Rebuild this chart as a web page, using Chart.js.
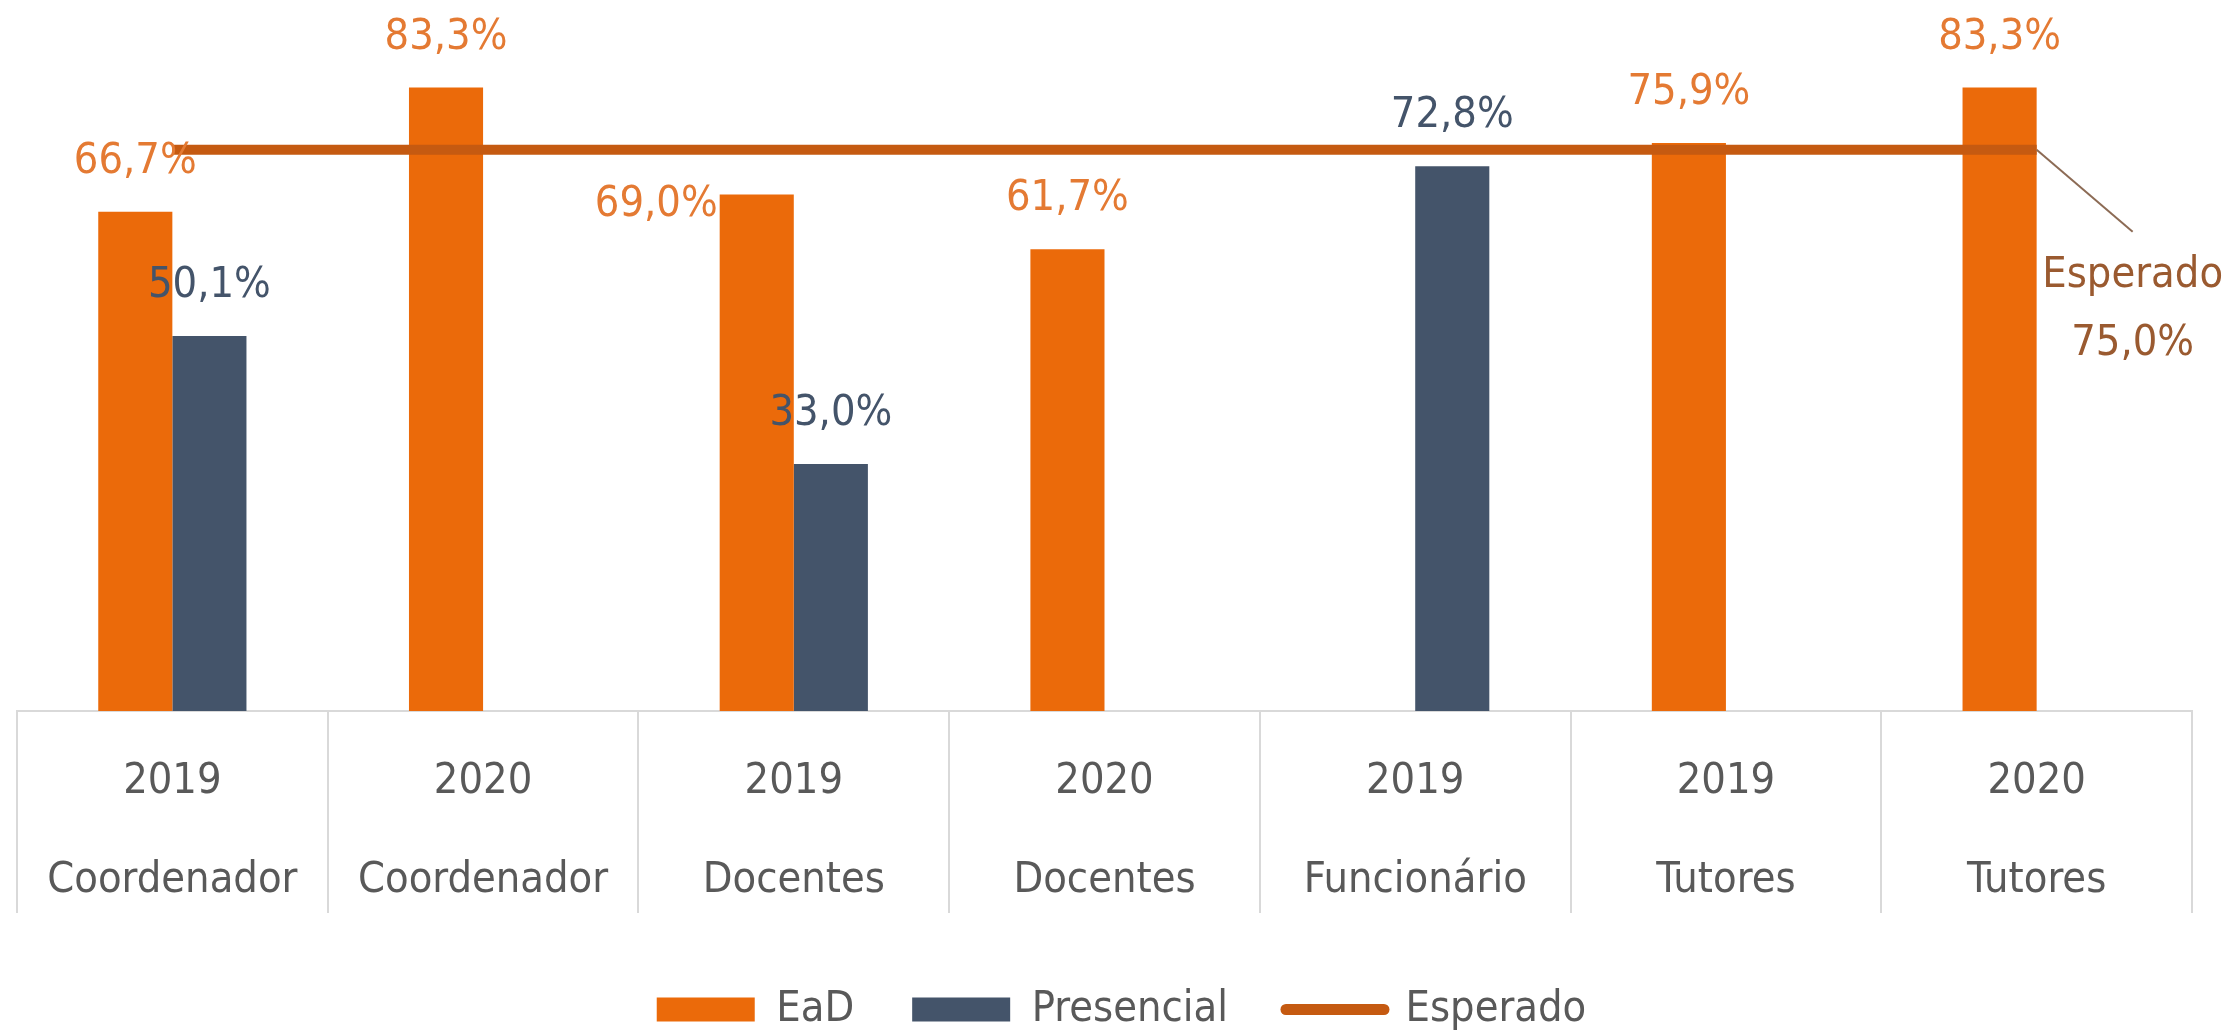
<!DOCTYPE html>
<html>
<head>
<meta charset="utf-8">
<script src="https://cdn.jsdelivr.net/npm/chart.js@4.4.1/dist/chart.umd.min.js"></script>
<style>
html, body { margin: 0; padding: 0; background: #ffffff; }
#c { display: block; }
</style>
</head>
<body>
<canvas id="c" width="2233" height="1030"></canvas>
<script>
// ---- data ----
const years = ['2019', '2020', '2019', '2020', '2019', '2019', '2020'];
const groups = ['Coordenador', 'Coordenador', 'Docentes', 'Docentes', 'Funcionário', 'Tutores', 'Tutores'];
const eadValues = [66.7, 83.3, 69.0, 61.7, null, 75.9, 83.3];
const presencialValues = [50.1, null, 33.0, null, 72.8, null, null];
const esperadoValues = [75.0, 75.0, 75.0, 75.0, 75.0, 75.0, 75.0];
const seriesNames = ['EaD', 'Presencial', 'Esperado'];
const yMin = 0;
const yMax = 95;

// ---- styles ----
const FAMILY = "'DejaVu Sans Condensed', 'DejaVu Sans', sans-serif";
const FS = 43;
const C_EAD = '#EB6A0A';
const C_PRES = '#44546A';
const C_LINE = '#C55A11';
const C_TEXT = '#595959';
const C_GRID = '#D9D9D9';
const labelColors = ['#E47A33', '#44546A'];
const C_CALLOUT = '#9A5A30';
// label placed beside the bar instead of above it (dataset, index)
const sideLabels = [{ ds: 0, index: 2 }];
const AXIS_H = 219;
const LEGEND_SHIFT = 17;

const fmt = v => v.toFixed(1).replace('.', ',') + '%';
const labels = years.map((y, i) => [y, groups[i]]);

const valueLabels = {
  id: 'valueLabels',
  afterLayout(chart) {
    const lg = chart.legend;
    if (lg) { lg.left += LEGEND_SHIFT; lg.right += LEGEND_SHIFT; }
  },
  afterDatasetsDraw(chart) {
    const ctx = chart.ctx;
    ctx.save();
    ctx.font = FS + 'px ' + FAMILY;
    ctx.textBaseline = 'middle';
    [0, 1].forEach(di => {
      const meta = chart.getDatasetMeta(di);
      const data = chart.data.datasets[di].data;
      meta.data.forEach((bar, i) => {
        const v = data[i];
        if (v === null || v === undefined) return;
        ctx.fillStyle = labelColors[di];
        const side = sideLabels.find(s => s.ds === di && s.index === i);
        if (side) {
          ctx.textAlign = 'right';
          ctx.fillText(fmt(v), bar.x - bar.width / 2 - 2, bar.y + 10);
        } else {
          ctx.textAlign = 'center';
          ctx.fillText(fmt(v), bar.x, bar.y - 50);
        }
      });
    });
    // callout for the expected line
    const lm = chart.getDatasetMeta(2);
    const n = lm.data.length - 1;
    const last = lm.data[n];
    const lv = chart.data.datasets[2].data[n];
    const ex = last.x + 96, ey = last.y + 82;
    ctx.strokeStyle = '#8C6B55';
    ctx.lineWidth = 2;
    ctx.beginPath();
    ctx.moveTo(last.x, last.y);
    ctx.lineTo(ex, ey);
    ctx.stroke();
    ctx.fillStyle = C_CALLOUT;
    ctx.textAlign = 'center';
    ctx.fillText(seriesNames[2], ex, last.y + 126);
    ctx.fillText(fmt(lv), ex, last.y + 194);
    ctx.restore();
  }
};

new Chart(document.getElementById('c'), {
  data: {
    labels: labels,
    datasets: [
      { type: 'bar', label: seriesNames[0], data: eadValues, backgroundColor: C_EAD, borderWidth: 0, order: 1 },
      { type: 'bar', label: seriesNames[1], data: presencialValues, backgroundColor: C_PRES, borderWidth: 0, order: 2 },
      { type: 'line', label: seriesNames[2], data: esperadoValues, borderColor: C_LINE, backgroundColor: C_LINE,
        borderWidth: 10, pointRadius: 0, pointHoverRadius: 0, pointStyle: 'line', tension: 0, order: 0 }
    ]
  },
  options: {
    responsive: false,
    animation: false,
    events: [],
    layout: { padding: { left: 17, right: 41, top: 0, bottom: -11 } },
    datasets: { bar: { categoryPercentage: 0.477, barPercentage: 1.0 } },
    scales: {
      x: {
        offset: true,
        afterFit: s => { s.height = AXIS_H; },
        grid: { offset: true, drawOnChartArea: false, drawTicks: true, tickLength: 202, color: C_GRID, lineWidth: 2 },
        border: { display: true, color: C_GRID, width: 2 },
        ticks: {
          color: C_TEXT,
          font: { family: FAMILY, size: FS, lineHeight: 99 / FS },
          padding: -181,
          maxRotation: 0,
          autoSkip: false
        }
      },
      y: { display: false, min: yMin, max: yMax }
    },
    plugins: {
      tooltip: { enabled: false },
      legend: {
        position: 'bottom',
        labels: {
          color: C_TEXT,
          font: { family: FAMILY, size: FS },
          usePointStyle: true,
          pointStyleWidth: 98,
          boxHeight: 24,
          padding: 58,
          sort: (a, b) => a.datasetIndex - b.datasetIndex,
          generateLabels(chart) {
            const items = Chart.defaults.plugins.legend.labels.generateLabels(chart);
            items.forEach(it => {
              if (it.datasetIndex === 2) {
                it.pointStyle = 'line';
                it.lineWidth = 11;
                it.strokeStyle = C_LINE;
                it.fillStyle = C_LINE;
                it.lineCap = 'round';
              } else {
                it.pointStyle = 'rect';
                it.lineWidth = 0;
              }
            });
            return items;
          }
        }
      }
    }
  },
  plugins: [valueLabels]
});
</script>
</body>
</html>
